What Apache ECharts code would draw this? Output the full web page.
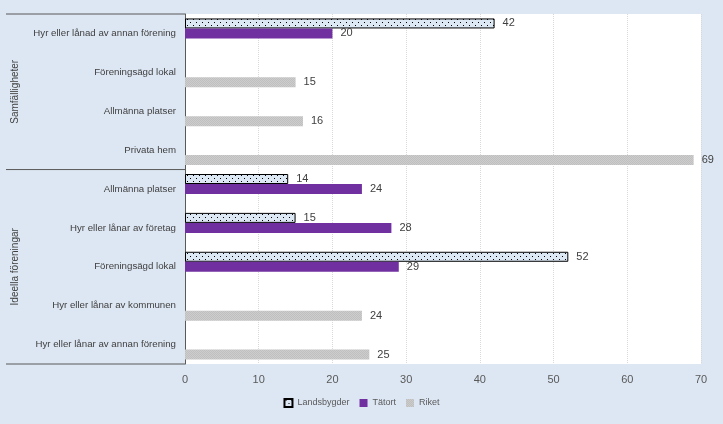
<!DOCTYPE html>
<html>
<head>
<meta charset="utf-8">
<script src="https://cdn.jsdelivr.net/npm/echarts@6/dist/echarts.min.js"></script>
<style>
html,body{margin:0;padding:0;background:#dde7f3;}
#c{width:723px;height:424px;}
</style>
</head>
<body>
<div id="c"></div>
<script>
var categories = [
  'Hyr eller lånad av annan förening',
  'Föreningsägd lokal',
  'Allmänna platser',
  'Privata hem',
  'Allmänna platser',
  'Hyr eller lånar av företag',
  'Föreningsägd lokal',
  'Hyr eller lånar av kommunen',
  'Hyr eller lånar av annan förening'
];
var groups = ['Samfälligheter', 'Ideella föreningar'];
var groupSizes = [4, 5];
var landsbygder = [42, null, null, null, 14, 15, 52, null, null];
var tatort = [20, null, null, null, 24, 28, 29, null, null];
var riket = [null, 15, 16, 69, null, null, null, 24, 25];
var seriesNames = ['Landsbygder', 'Tätort', 'Riket'];
var xTicks = [0, 10, 20, 30, 40, 50, 60, 70];

var cv = document.createElement('canvas');
cv.width = 6; cv.height = 6;
var cx = cv.getContext('2d');
cx.fillStyle = '#dde8f5';
cx.fillRect(0, 0, 6, 6);
cx.fillStyle = '#000';
cx.fillRect(1, 1, 1, 1);
cx.fillRect(4, 4, 1, 1);

var cg = document.createElement('canvas');
cg.width = 2; cg.height = 2;
var gx = cg.getContext('2d');
gx.fillStyle = '#cdcdcd';
gx.fillRect(0, 0, 2, 2);
gx.fillStyle = '#bfbfbf';
gx.fillRect(0, 0, 1, 1);
gx.fillRect(1, 1, 1, 1);

var chart = echarts.init(document.getElementById('c'));
var font = 'Liberation Sans';
var lbl = {show: true, position: 'right', distance: 8, color: '#404040', fontSize: 11, fontFamily: font};
chart.setOption({
  backgroundColor: '#dde7f3',
  animation: false,
  grid: {left: 185, right: 22, top: 14, bottom: 60, show: true, backgroundColor: '#ffffff', borderWidth: 0},
  legend: {
    bottom: 11, left: 'center', itemWidth: 8, itemHeight: 8, itemGap: 10, icon: 'rect',
    textStyle: {color: '#595959', fontSize: 9, fontFamily: font},
    data: seriesNames
  },
  xAxis: {
    type: 'value', min: xTicks[0], max: xTicks[xTicks.length - 1], interval: 10,
    axisLine: {show: false}, axisTick: {show: false},
    axisLabel: {color: '#595959', fontSize: 11, fontFamily: font, margin: 10},
    splitLine: {lineStyle: {color: '#d9d9d9', type: 'dotted'}}
  },
  yAxis: {
    type: 'category', data: categories, inverse: true,
    axisLine: {show: true, lineStyle: {color: '#595959', width: 1}},
    axisTick: {show: false},
    axisLabel: {color: '#404040', fontSize: 9.7, fontFamily: font, margin: 9}
  },
  series: [
    {name: seriesNames[0], type: 'bar', data: landsbygder, barWidth: 10, barGap: '0%',
     itemStyle: {color: {image: cv, repeat: 'repeat'}, borderColor: '#000', borderWidth: 1}, label: lbl},
    {name: seriesNames[1], type: 'bar', data: tatort, barWidth: 10, barGap: '0%',
     itemStyle: {color: '#7030a0'}, label: lbl},
    {name: seriesNames[2], type: 'bar', data: riket, barWidth: 10, barGap: '0%',
     itemStyle: {color: {image: cg, repeat: 'repeat'}}, label: lbl}
  ]
});

var c0 = chart.convertToPixel({yAxisIndex: 0}, 0);
var c1 = chart.convertToPixel({yAxisIndex: 0}, 1);
var half = (c1 - c0) / 2;
var axisX = chart.convertToPixel({xAxisIndex: 0}, 0);
var elems = [];
var start = 0;
var lineStyle = {stroke: '#595959', lineWidth: 1};
elems.push({type: 'line', shape: {x1: 6, y1: c0 - half, x2: axisX, y2: c0 - half}, style: lineStyle, silent: true});
for (var g = 0; g < groups.length; g++) {
  var end = start + groupSizes[g] - 1;
  var yTop = chart.convertToPixel({yAxisIndex: 0}, start) - half;
  var yBot = chart.convertToPixel({yAxisIndex: 0}, end) + half;
  elems.push({type: 'line', shape: {x1: 6, y1: yBot, x2: axisX, y2: yBot}, style: lineStyle, silent: true});
  elems.push({type: 'text', x: 15, y: (yTop + yBot) / 2, rotation: Math.PI / 2,
    style: {text: groups[g], fill: '#404040', fontSize: 10, fontFamily: font, align: 'center', verticalAlign: 'middle'}, silent: true});
  start = end + 1;
}
chart.setOption({graphic: elems});
</script>
</body>
</html>
